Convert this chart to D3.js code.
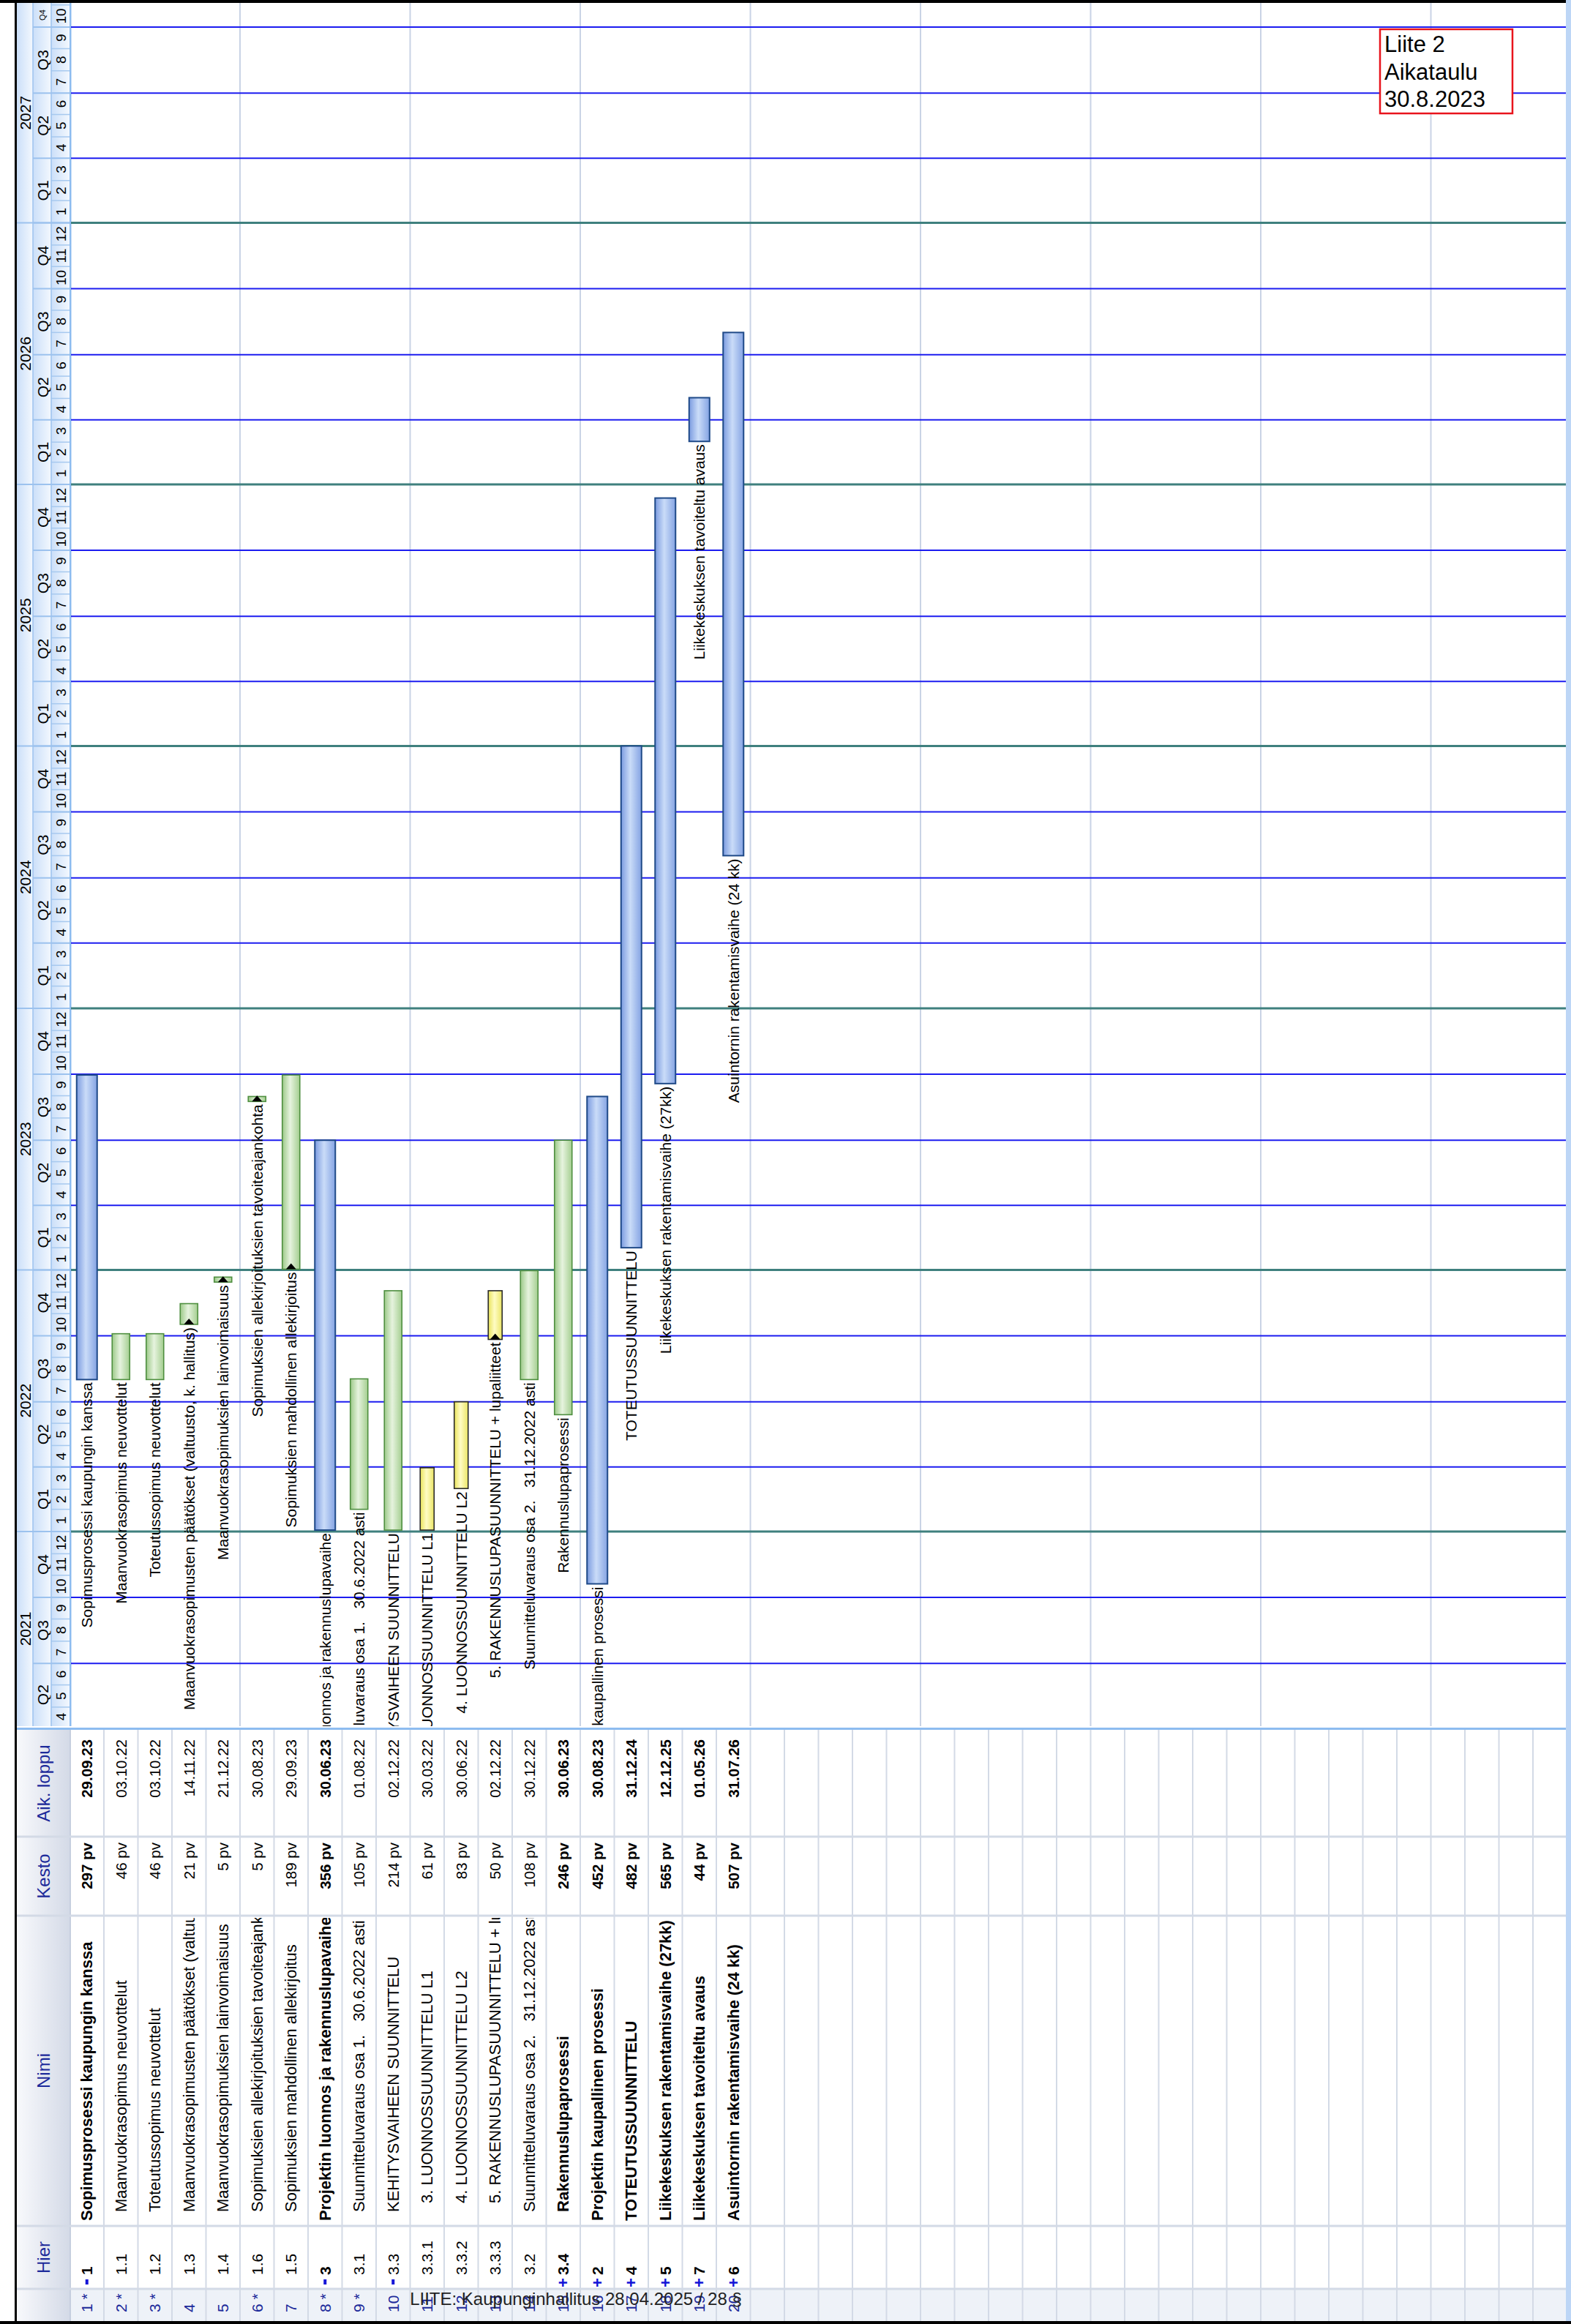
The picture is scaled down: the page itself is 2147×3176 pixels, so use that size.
<!DOCTYPE html>
<html><head><meta charset="utf-8">
<script src="https://cdn.jsdelivr.net/npm/d3@7/dist/d3.min.js"></script>
<style>
html,body{margin:0;padding:0;background:#fff;}
svg{display:block;}
text{font-family:"Liberation Sans",Arial,sans-serif;white-space:pre;}
</style></head><body>
<svg id="c" width="2147" height="3176"></svg>
<script>
// ---------------- DATA ----------------
const rowNums = ["1 *","2 *","3 *","4","5","6 *","7","8 *","9 *","10","11","12","13","14","15","16","17","18","19","20"];
const hierCodes = ["1","1.1","1.2","1.3","1.4","1.6","1.5","3","3.1","3.3","3.3.1","3.3.2","3.3.3","3.2","3.4","2","4","5","7","6"];
const hierIcons = ["-","","","","","","","-","","-","","","","","+","+","+","+","+","+"];
const taskNames = [
  "Sopimusprosessi kaupungin kanssa",
  "Maanvuokrasopimus neuvottelut",
  "Toteutussopimus neuvottelut",
  "Maanvuokrasopimusten päätökset (valtuusto, k. hallitus)",
  "Maanvuokrasopimuksien lainvoimaisuus",
  "Sopimuksien allekirjoituksien tavoiteajankohta",
  "Sopimuksien mahdollinen allekirjoitus",
  "Projektin luonnos ja rakennuslupavaihe",
  "Suunnitteluvaraus osa 1.   30.6.2022 asti",
  "KEHITYSVAIHEEN SUUNNITTELU",
  "3. LUONNOSSUUNNITTELU L1",
  "4. LUONNOSSUUNNITTELU L2",
  "5. RAKENNUSLUPASUUNNITTELU + lupaliitteet",
  "Suunnitteluvaraus osa 2.   31.12.2022 asti",
  "Rakennuslupaprosessi",
  "Projektin kaupallinen prosessi",
  "TOTEUTUSSUUNNITTELU",
  "Liikekeskuksen rakentamisvaihe (27kk)",
  "Liikekeskuksen tavoiteltu avaus",
  "Asuintornin rakentamisvaihe (24 kk)"
];
const durations = ["297 pv","46 pv","46 pv","21 pv","5 pv","5 pv","189 pv","356 pv","105 pv","214 pv","61 pv","83 pv","50 pv","108 pv","246 pv","452 pv","482 pv","565 pv","44 pv","507 pv"];
const endLabels = ["29.09.23","03.10.22","03.10.22","14.11.22","21.12.22","30.08.23","29.09.23","30.06.23","01.08.22","02.12.22","30.03.22","30.06.22","02.12.22","30.12.22","30.06.23","30.08.23","31.12.24","12.12.25","01.05.26","31.07.26"];
const startLabels = ["01.08.2022","01.08.2022","01.08.2022","17.10.2022","15.12.2022","24.08.2023","02.01.2023","03.01.2022","01.02.2022","03.01.2022","03.01.2022","02.03.2022","26.09.2022","01.08.2022","13.06.2022","20.10.2021","01.02.2023","18.09.2023","02.03.2026","01.08.2024"];
const barKinds = ["summary","task","task","task","task","task","task","summary","task","task","design","design","design","task","task","summary","summary","summary","summary","summary"];
const boldRows = [true,false,false,false,false,false,false,true,false,false,false,false,false,false,true,true,true,true,true,true];
const startMarkers = [false,false,false,true,true,true,true,false,false,false,false,false,true,false,false,false,false,false,false,false];
const tableHeaders = ["", "Hier", "Nimi", "Kesto", "Aik. loppu"];
const footerText = "LIITE: Kaupunginhallitus 28.04.2025 / 28 §";
const noteLines = ["Liite 2","Aikataulu","30.8.2023"];

// ---------------- LAYOUT ----------------
const W = 2147, H = 3176;
const P = py => H - py;                 // page y -> local x (rotated frame)
const chartX0 = P(2359), chartX1 = P(4);
const rowTop = 95.5, rowH = 46.5, nRows = 44;
const gridRight = 2140;
const cols = [[P(3172),P(3128)],[P(3128),P(3042)],[P(3042),P(2618)],[P(2618),P(2510)],[P(2510),P(2364)]];
const parse = d3.timeParse("%d.%m.%Y");
const parseShort = d3.timeParse("%d.%m.%y");

const xs = d3.scaleTime()
  .domain([new Date(2022,0,1), new Date(2027,0,1)])
  .range([P(2093), P(304.5)]);
const vStart = xs.invert(chartX0), vEnd = xs.invert(chartX1);

const tasks = taskNames.map((n,i)=>({
  i, name:n,
  start: parse(startLabels[i]),
  end: d3.timeDay.offset(parseShort(endLabels[i]),1),
  kind: barKinds[i], marker:startMarkers[i]
}));

const svg = d3.select("#c");
const defs = svg.append("defs");
function grad(id, stops){
  const lg = defs.append("linearGradient").attr("id",id).attr("x1",0).attr("y1",0).attr("x2",0).attr("y2",1);
  stops.forEach(([o,c])=>lg.append("stop").attr("offset",o).attr("stop-color",c));
}
grad("gBlue",[[0,"#7b9be0"],[0.45,"#cadcf8"],[1,"#84a3e3"]]);
grad("gGreen",[[0,"#9cc988"],[0.45,"#e6f3de"],[1,"#a4ce90"]]);
grad("gYellow",[[0,"#e9e35a"],[0.45,"#fffcc4"],[1,"#ebe566"]]);
grad("gHead",[[0,"#cbdff9"],[1,"#f3f8fe"]]);
grad("gTHead",[[0,"#f8f9fc"],[1,"#d4dae7"]]);
defs.append("clipPath").attr("id","clipChart").append("rect")
  .attr("x",chartX0).attr("y",97).attr("width",chartX1-chartX0).attr("height",gridRight-97);
defs.append("clipPath").attr("id","clipName").append("rect")
  .attr("x",cols[2][0]).attr("y",0).attr("width",cols[2][1]-cols[2][0]-3).attr("height",H);
defs.append("clipPath").attr("id","clipHead").append("rect")
  .attr("x",chartX0).attr("y",0).attr("width",chartX1-chartX0).attr("height",200);

const g = svg.append("g").attr("transform",`translate(0,${H}) rotate(-90)`);

// ---------------- TABLE ----------------
const rowY = i => rowTop + i*rowH;
const rowC = i => rowTop + i*rowH + rowH/2;

g.append("rect").attr("x",cols[0][0]).attr("y",rowTop).attr("width",cols[0][1]-cols[0][0]).attr("height",gridRight-rowTop).attr("fill","#eef2f8");
// header cells
cols.forEach((c,k)=>{
  g.append("rect").attr("x",c[0]).attr("y",23).attr("width",c[1]-c[0]).attr("height",72).attr("fill","url(#gTHead)");
  g.append("text").attr("x",(c[0]+c[1])/2).attr("y",59).attr("text-anchor","middle").attr("dominant-baseline","central")
    .attr("font-size",24).attr("fill","#1c2a9a").text(tableHeaders[k]);
});
g.append("rect").attr("x",cols[0][0]).attr("y",95).attr("width",cols[4][1]-cols[0][0]).attr("height",2).attr("fill","#c6cfdf");
// row lines
d3.range(1,nRows+1).forEach(i=>{
  g.append("line").attr("x1",cols[0][0]).attr("x2",cols[4][1]).attr("y1",rowY(i)).attr("y2",rowY(i))
    .attr("stroke","#d3dae6").attr("stroke-width",2);
});
// column lines
cols.slice(1).forEach(c=>{
  g.append("line").attr("x1",c[0]).attr("x2",c[0]).attr("y1",23).attr("y2",gridRight)
    .attr("stroke","#d3dae6").attr("stroke-width",3);
});
// table text
tasks.forEach(t=>{
  const i=t.i, b=boldRows[i]?"bold":"normal", cy=rowC(i);
  g.append("text").attr("x",P(3160)).attr("y",cy).attr("dominant-baseline","central")
    .attr("font-size",21).attr("fill","#1c2a9a").text(rowNums[i]);
  if(hierIcons[i]==="-"){
    g.append("rect").attr("x",P(3122)).attr("y",cy-2).attr("width",7).attr("height",4).attr("fill","#1414d8");
  } else if(hierIcons[i]==="+"){
    g.append("text").attr("x",P(3126)).attr("y",cy).attr("dominant-baseline","central")
      .attr("font-size",22).attr("font-weight","bold").attr("fill","#1414d8").text("+");
  }
  g.append("text").attr("x",P(3109)).attr("y",cy).attr("dominant-baseline","central")
    .attr("font-size",21).attr("font-weight",b).attr("fill","#000").text(hierCodes[i]);
  const depth = hierCodes[i].split(".").length;
  g.append("text").attr("x",P(3035)+(depth-1)*12).attr("y",cy).attr("dominant-baseline","central")
    .attr("clip-path","url(#clipName)")
    .attr("font-size",22).attr("font-weight",b).attr("fill","#000").text(t.name);
  g.append("text").attr("x",P(2518)).attr("y",cy).attr("text-anchor","end").attr("dominant-baseline","central")
    .attr("font-size",20.5).attr("font-weight",b).attr("fill","#000").text(durations[i]);
  g.append("text").attr("x",P(2377)).attr("y",cy).attr("text-anchor","end").attr("dominant-baseline","central")
    .attr("font-size",20.5).attr("font-weight",b).attr("fill","#000").text(endLabels[i]);
});

// ---------------- TIMELINE HEADER ----------------
const hdr = g.append("g").attr("clip-path","url(#clipHead)");
[[23,22],[45,25],[70,25]].forEach(([y,h])=>{
  hdr.append("rect").attr("x",chartX0).attr("y",y).attr("width",chartX1-chartX0).attr("height",h).attr("fill","url(#gHead)");
});
const months = d3.timeMonth.range(d3.timeMonth.floor(vStart), vEnd);
const allQ = d3.timeMonth.every(3).range(d3.timeMonth.every(3).floor(vStart), vEnd);
const years = d3.timeYear.range(d3.timeYear.floor(vStart), vEnd);
const cx = (a,b)=>{const x0=Math.max(xs(a),chartX0), x1=Math.min(xs(b),chartX1); return [(x0+x1)/2, x1-x0];};
months.forEach(m=>{
  const [c,w]=cx(m,d3.timeMonth.offset(m,1));
  if(xs(m)>chartX0) hdr.append("line").attr("x1",xs(m)).attr("x2",xs(m)).attr("y1",70).attr("y2",95).attr("stroke","#a7c9ef").attr("stroke-width",1.5);
  if(w>14) hdr.append("text").attr("x",c).attr("y",83).attr("text-anchor","middle").attr("dominant-baseline","central")
    .attr("font-size",19).attr("fill","#000").text(m.getMonth()+1);
});
allQ.forEach(q=>{
  const [c,w]=cx(q,d3.timeMonth.offset(q,3));
  if(xs(q)>chartX0) hdr.append("line").attr("x1",xs(q)).attr("x2",xs(q)).attr("y1",45).attr("y2",95).attr("stroke","#9cc2ee").attr("stroke-width",2);
  hdr.append("text").attr("x",c).attr("y",58).attr("text-anchor","middle").attr("dominant-baseline","central")
    .attr("font-size",w<45?11:21).attr("fill","#000").text("Q"+(Math.floor(q.getMonth()/3)+1));
});
years.forEach(y=>{
  const [c,w]=cx(y,d3.timeYear.offset(y,1));
  if(xs(y)>chartX0) hdr.append("line").attr("x1",xs(y)).attr("x2",xs(y)).attr("y1",23).attr("y2",95).attr("stroke","#9cc2ee").attr("stroke-width",2);
  hdr.append("text").attr("x",c).attr("y",34.5).attr("text-anchor","middle").attr("dominant-baseline","central")
    .attr("font-size",21).attr("fill","#000").text(y.getFullYear());
});
hdr.append("line").attr("x1",chartX0).attr("x2",chartX1).attr("y1",45).attr("y2",45).attr("stroke","#9cc2ee").attr("stroke-width",1.5);
hdr.append("line").attr("x1",chartX0).attr("x2",chartX1).attr("y1",70).attr("y2",70).attr("stroke","#9cc2ee").attr("stroke-width",1.5);
g.append("rect").attr("x",chartX0).attr("y",95).attr("width",chartX1-chartX0).attr("height",2.5).attr("fill","#8dbcf0");

// ---------------- CHART GRID ----------------
const chart = g.append("g");
d3.range(1,9).forEach(k=>{
  chart.append("line").attr("x1",chartX0).attr("x2",chartX1).attr("y1",rowY(5*k)).attr("y2",rowY(5*k))
    .attr("stroke","#c9d3e5").attr("stroke-width",2);
});
allQ.filter(q=>xs(q)>chartX0).forEach(q=>{
  const yr = q.getMonth()===0;
  chart.append("line").attr("x1",xs(q)).attr("x2",xs(q)).attr("y1",97).attr("y2",gridRight)
    .attr("stroke",yr?"#3f807e":"#1c1cf0").attr("stroke-width",yr?3:2);
});
// boundary between table and chart
g.append("rect").attr("x",P(2364)).attr("y",23).attr("width",3).attr("height",gridRight-23).attr("fill","#8dbcf0");

// ---------------- BARS ----------------
const barW = {summary:28, task:24, design:19};
const barFill = {summary:"url(#gBlue)", task:"url(#gGreen)", design:"url(#gYellow)"};
const barStroke = {summary:"#1f4a88", task:"#4f8f40", design:"#2a2a2a"};
const bars = g.append("g").attr("clip-path","url(#clipChart)");
tasks.forEach(t=>{
  const cy=rowC(t.i), w=barW[t.kind], x0=xs(t.start), x1=xs(t.end);
  bars.append("rect").attr("x",x0).attr("y",cy-w/2).attr("width",x1-x0).attr("height",w)
    .attr("fill",barFill[t.kind]).attr("stroke",barStroke[t.kind]).attr("stroke-width",t.kind==="summary"?2:1.6);
  if(t.marker){
    bars.append("path").attr("d",`M${x0},${cy-7}L${x0+8},${cy}L${x0},${cy+7}Z`).attr("fill","#000");
  }
  bars.append("text").attr("x",x0-4).attr("y",cy).attr("text-anchor","end").attr("dominant-baseline","central")
    .attr("font-size",21).attr("fill","#000").text(t.name);
});

// ---------------- FRAME, NOTE, FOOTER ----------------
svg.append("rect").attr("x",2140).attr("y",0).attr("width",7).attr("height",H).attr("fill","#bdd6f6");
svg.append("rect").attr("x",0).attr("y",0).attr("width",2140).attr("height",4).attr("fill","#000");
svg.append("rect").attr("x",20).attr("y",0).attr("width",3).attr("height",H).attr("fill","#000");
svg.append("rect").attr("x",0).attr("y",H-4).attr("width",W).attr("height",4).attr("fill","#000");

const note = svg.append("g");
note.append("rect").attr("x",1886).attr("y",40).attr("width",181).attr("height",115)
  .attr("fill","#fff").attr("stroke","#e8141c").attr("stroke-width",2.5);
noteLines.forEach((s,k)=>{
  note.append("text").attr("x",1892).attr("y",71+k*37.5).attr("font-size",31).attr("fill","#000").text(s);
});
svg.append("text").attr("x",787).attr("y",3150).attr("text-anchor","middle")
  .attr("font-size",24).attr("fill","#222").text(footerText);
</script>
</body></html>
